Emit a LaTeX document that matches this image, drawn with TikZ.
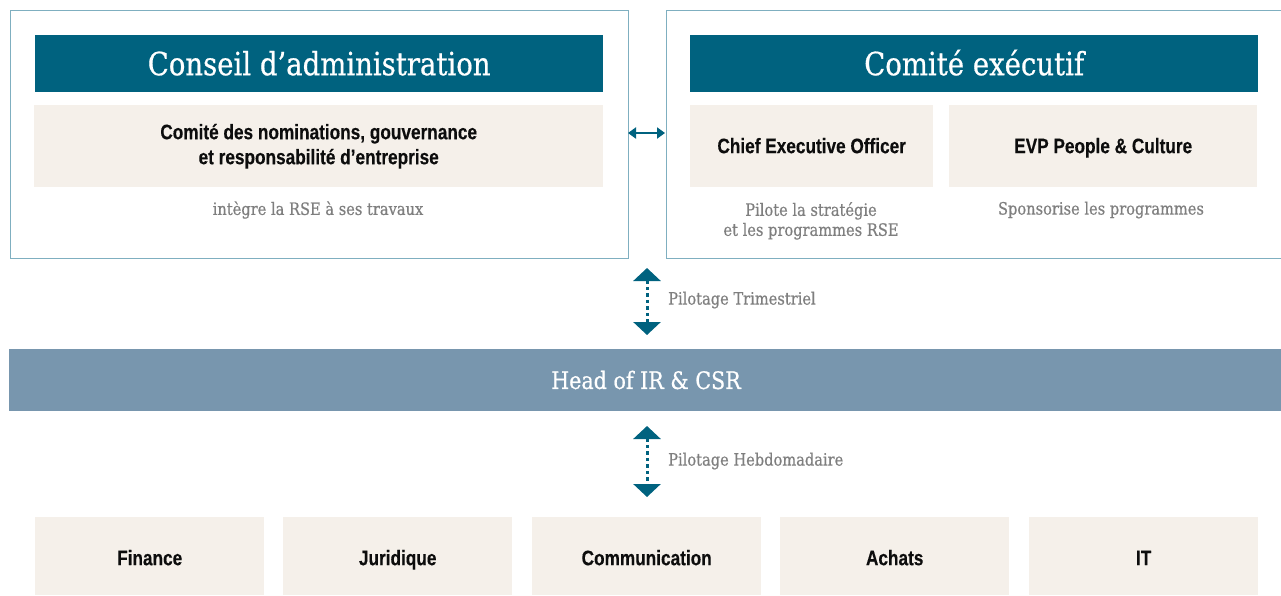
\documentclass[tikz,border=0pt]{standalone}
\usepackage{fontspec}
\usetikzlibrary{arrows.meta}
\newfontfamily\slab[FakeStretch=0.86,FakeBold=0.6]{DejaVu Serif}
\newfontfamily\cond[FakeStretch=0.82,FakeBold=0.3]{Liberation Sans}
\definecolor{teal}{HTML}{00627F}
\definecolor{headbar}{HTML}{7896AE}
\definecolor{beige}{HTML}{F5F0EA}
\definecolor{frame}{HTML}{7FAFC0}
\definecolor{graytxt}{HTML}{7F7F7F}
\tikzset{
  outerbox/.style={draw=frame, line width=1pt, anchor=north west, inner sep=0pt},
  titlebar/.style={fill=teal, anchor=north west, inner sep=0pt, text=white, font=\slab\fontsize{32}{36}\selectfont, minimum height=57pt, text height=25pt, text depth=2pt},
  beigebox/.style={fill=beige, anchor=north west, inner sep=0pt, align=center, font=\cond\bfseries\fontsize{21}{25}\selectfont, text=black!95},
  oneline/.style={text height=16pt, text depth=2pt},
  lowline/.style={text height=18pt, text depth=0pt},
  graylabel/.style={text=graytxt, font=\slab\fontsize{17}{20}\selectfont, align=center, inner sep=0pt},
  sidelabel/.style={text=graytxt, font=\slab\fontsize{17}{20}\selectfont, anchor=west, inner sep=0pt},
  vlink/.style={teal, line width=3pt, dash pattern=on 3.5pt off 3pt, {Triangle[width=27pt,length=13pt]}-{Triangle[width=27pt,length=13pt]}},
  hlink/.style={teal, line width=2.5pt, {Triangle[width=11pt,length=8pt]}-{Triangle[width=11pt,length=8pt]}}
}
\begin{document}
\begin{tikzpicture}[x=1pt,y=-1pt]
\useasboundingbox (0,0) rectangle (1281,595);
% outer frames
\node[outerbox, minimum width=618pt, minimum height=248pt] (boardframe) at (9.5,10) {};
\node[outerbox, minimum width=620pt, minimum height=248pt] (execframe) at (665.5,10) {};
% title bars
\node[titlebar, minimum width=568pt] (board) at (35,35) {Conseil d’administration};
\node[titlebar, minimum width=568pt] (exec) at (690,35) {Comité exécutif};
% beige boxes top
\node[beigebox, minimum width=569pt, minimum height=82pt] (cng) at (34,105) {Comité des nominations, gouvernance\\[0pt]et responsabilité d’entreprise};
\node[beigebox, oneline, minimum width=243pt, minimum height=82pt] (ceo) at (690,105) {Chief Executive Officer};
\node[beigebox, oneline, minimum width=308pt, minimum height=82pt] (evp) at (949,105) {EVP People \& Culture};
% gray descriptions
\node[graylabel] (cngtxt) at (318,210) {intègre la RSE à ses travaux};
\node[graylabel, anchor=north] (ceotxt) at (811,202) {Pilote la stratégie\\et les programmes RSE};
\node[graylabel] (evptxt) at (1101,210) {Sponsorise les programmes};
% horizontal link
\coordinate (hl) at (628,133);
\coordinate (hr) at (665,133);
\draw[hlink] (hl) -- (hr);
% head bar
\node[fill=headbar, anchor=north west, inner sep=0pt, minimum width=1275pt, minimum height=62pt] (head) at (9,349) {};
\node[text=white, font=\slab\fontsize{24}{28}\selectfont, inner sep=0pt] (headtxt) at (646,380) {Head of IR \& CSR};
% vertical links
\coordinate (v1t) at (647,268);
\coordinate (v1b) at (647,335);
\draw[vlink] (v1t) -- (v1b);
\node[sidelabel] (pt) at (668,300) {Pilotage Trimestriel};
\coordinate (v2t) at (647,426);
\coordinate (v2b) at (647,497);
\draw[vlink] (v2t) -- (v2b);
\node[sidelabel] (ph) at (668,461) {Pilotage Hebdomadaire};
% bottom boxes
\node[beigebox, lowline, minimum width=229pt, minimum height=78pt] (fin) at (35,517) {Finance};
\node[beigebox, lowline, minimum width=229pt, minimum height=78pt] (jur) at (283,517) {Juridique};
\node[beigebox, lowline, minimum width=229pt, minimum height=78pt] (com) at (532,517) {Communication};
\node[beigebox, lowline, minimum width=229pt, minimum height=78pt] (ach) at (780,517) {Achats};
\node[beigebox, lowline, minimum width=229pt, minimum height=78pt] (it) at (1029,517) {IT};
\end{tikzpicture}
\end{document}
